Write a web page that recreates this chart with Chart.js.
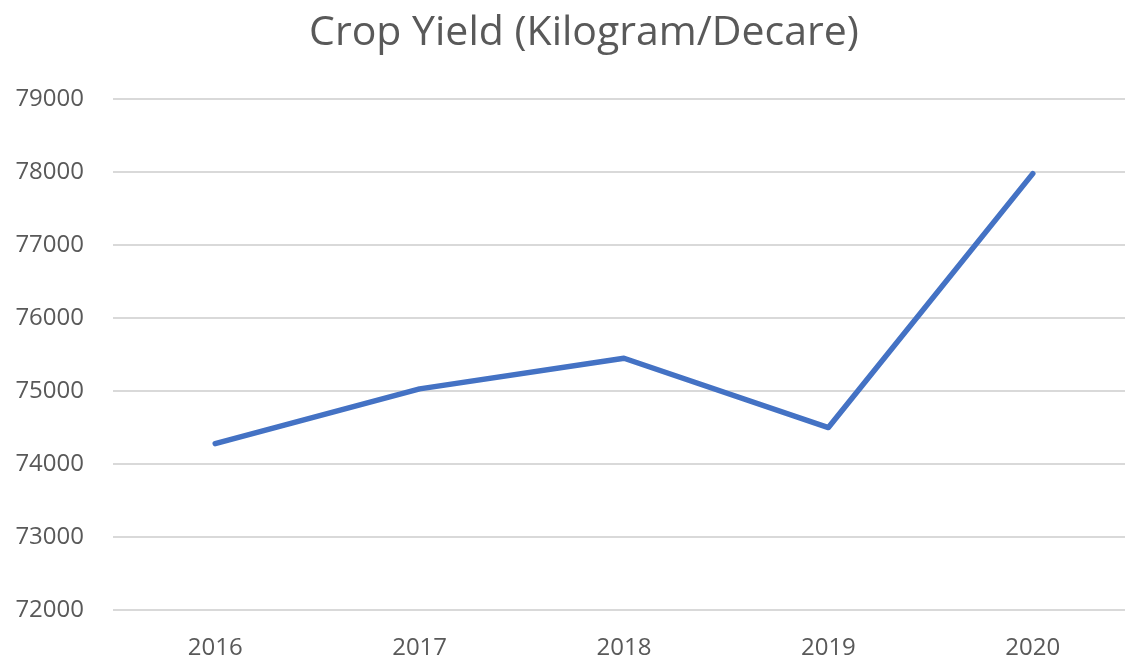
<!DOCTYPE html>
<html>
<head>
<meta charset="utf-8">
<script src="https://cdn.jsdelivr.net/npm/chart.js@4"></script>
<style>
  html, body { margin:0; padding:0; background:#fff; overflow:hidden; width:1125px; height:659px; }
  #wrap { position:absolute; left:0; top:0; width:1168px; height:659px; }
</style>
</head>
<body>
<div id="wrap"><canvas id="c" width="1168" height="659"></canvas></div>
<script>
const titleText = 'Crop Yield (Kilogram/Decare)';
const years = ['2016', '2017', '2018', '2019', '2020'];
const yieldValues = [74280, 75030, 75450, 74500, 77980];
const yMin = 72000;
const yMax = 79000;
const yStep = 1000;

const textColor = '#595959';
const fontFamily = '"Open Sans", "Noto Sans", sans-serif';

new Chart(document.getElementById('c'), {
  type: 'line',
  data: {
    labels: years,
    datasets: [{
      label: titleText,
      data: yieldValues,
      borderColor: '#4472C4',
      backgroundColor: '#4472C4',
      borderWidth: 5.5,
      pointRadius: 0,
      tension: 0,
      borderCapStyle: 'round',
      borderJoinStyle: 'round',
      fill: false
    }]
  },
  options: {
    responsive: false,
    animation: false,
    devicePixelRatio: 1,
    layout: { padding: 0 },
    plugins: {
      legend: { display: false },
      tooltip: { enabled: false },
      title: {
        display: true,
        text: titleText,
        color: textColor,
        font: { family: fontFamily, size: 41, weight: 'normal' },
        padding: { top: 9, bottom: 41 }
      }
    },
    scales: {
      x: {
        offset: true,
        grid: { display: false, drawTicks: false },
        border: { display: false },
        ticks: {
          color: textColor,
          font: { family: fontFamily, size: 24 },
          padding: 24,
          maxRotation: 0
        },
        afterFit: (s) => { s.height = 49; }
      },
      y: {
        min: yMin,
        max: yMax,
        grid: { color: '#d9d9d9', lineWidth: 2, drawTicks: false },
        border: { display: false },
        ticks: {
          stepSize: yStep,
          color: textColor,
          font: { family: fontFamily, size: 24 },
          padding: 29,
          callback: (v) => String(v)
        },
        afterFit: (s) => { s.width = 113; }
      },
      yRight: {
        position: 'right',
        display: true,
        min: yMin,
        max: yMax,
        grid: { display: false, drawTicks: false },
        border: { display: false },
        ticks: { display: false },
        afterFit: (s) => { s.width = 33; }
      }
    }
  }
});
</script>
</body>
</html>
